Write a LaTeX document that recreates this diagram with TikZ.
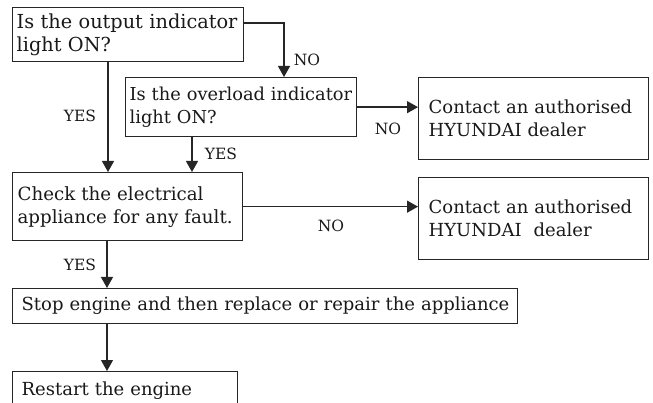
\documentclass[tikz,border=0pt]{standalone}
\usepackage{fontspec}
\setmainfont{DejaVu Serif}
\usetikzlibrary{arrows.meta,calc}
\newcommand{\fs}[1]{\fontsize{#1}{23}\selectfont}
\begin{document}
\begin{tikzpicture}[x=1pt,y=-1pt,
  box/.style={draw=black!85, line width=1.3pt, anchor=north west, inner xsep=4pt, inner ysep=0pt,
    align=left, font=\fs{18}, text=black!90},
  arr/.style={draw=black!85, line width=1.3pt, -{Triangle[length=11pt,width=12pt]}},
  lbl/.style={font=\fontsize{15.5}{17}\selectfont, text=black!90, inner sep=0pt}]
\useasboundingbox (0,0) rectangle (653,403);
\clip (0,0) rectangle (653,403);
\node[box, text width=223pt, minimum height=54pt, font=\fs{19.3}] (b1) at (12,7) {\mbox{Is the output indicator}\\light ON?};
\node[box, text width=223pt, minimum height=59pt, font=\fs{17.8}] (b2) at (125,77) {\mbox{Is the overload indicator}\\light ON?};
\node[box, inner xsep=10pt, text width=210pt, minimum height=82pt] (c1) at (418,77) {\mbox{Contact an authorised}\\HYUNDAI dealer};
\node[box, inner xsep=10pt, text width=210pt, minimum height=82pt] (c2) at (418,177) {\mbox{Contact an authorised}\\HYUNDAI\ \ dealer};
\node[box, inner xsep=5pt, text width=220pt, minimum height=68pt, font=\fs{18.2}] (chk) at (12,172) {\mbox{Check the electrical}\\\mbox{appliance for any fault.}};
\node[box, inner xsep=9pt, text width=487pt, minimum height=35pt] (stop) at (12,288) {\mbox{Stop engine and then replace or repair the appliance}};
\node[box, inner xsep=9pt, text width=207pt, minimum height=39pt] (rst) at (12,371) {Restart the engine};
% connectors
\draw[arr] ($(b1.north east)+(0,16)$) -| ($(b2.north west)+(159,0)$);
\draw[arr] ($(b1.south west)+(96,0)$) -- ($(chk.north west)+(96,0)$);
\draw[arr] ($(b2.south west)+(67,0)$) -- ($(chk.north west)+(180,0)$);
\draw[arr] (b2.east) -- (b2.east -| c1.west);
\draw[arr] (chk.east) -- (chk.east -| c2.west);
\draw[arr] ($(chk.south west)+(95,0)$) -- ($(stop.north west)+(95,0)$);
\draw[arr] ($(stop.south west)+(95,0)$) -- ($(rst.north west)+(95,0)$);
% labels
\node[lbl] (n1) at (307,60) {NO};
\node[lbl] (y1) at (80,116) {YES};
\node[lbl] (y2) at (221,154) {YES};
\node[lbl] (n2) at (388,129) {NO};
\node[lbl] (n3) at (331,226) {NO};
\node[lbl] (y3) at (80,265) {YES};
\end{tikzpicture}
\end{document}
